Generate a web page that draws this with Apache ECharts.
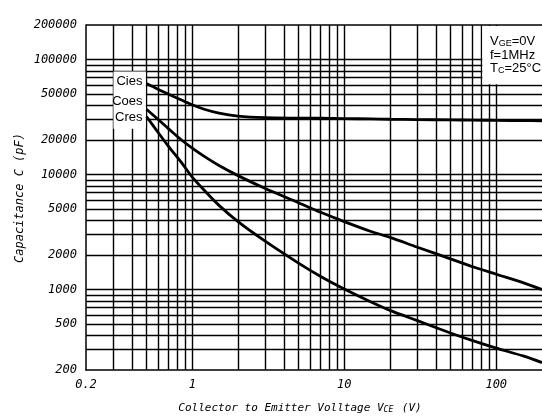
<!DOCTYPE html>
<html>
<head>
<meta charset="utf-8">
<script src="https://cdn.jsdelivr.net/npm/echarts@6/dist/echarts.min.js"></script>
<style>
  html, body { margin: 0; padding: 0; background: #fff; }
  #chart { width: 542px; height: 420px; }
</style>
</head>
<body>
<div id="chart"></div>
<script>
// Capacitance vs. collector-emitter voltage (log-log)
const vce = [0.5, 0.6, 0.7, 0.85, 1, 1.2, 1.5, 2, 3, 5, 7, 10, 15, 20, 30, 50, 70, 100, 150, 200];
const cies = [62000, 55000, 50000, 44500, 40500, 37000, 34200, 32300, 31300, 31000, 30900, 30700, 30500, 30300, 30100, 29900, 29800, 29600, 29500, 29400];
const coes = [37000, 30000, 25000, 20000, 17000, 14400, 12000, 9800, 7600, 5700, 4700, 3900, 3200, 2850, 2350, 1850, 1580, 1360, 1150, 1000];
const cres = [32000, 23000, 17500, 12700, 9500, 7300, 5400, 3900, 2650, 1700, 1300, 1010, 780, 660, 540, 420, 360, 310, 265, 232];

const seriesNames = ['Cies', 'Coes', 'Cres'];

// Axis tick labels
const xTickLabels = [0.2, 1, 10, 100];
const yTickLabels = [200, 500, 1000, 2000, 5000, 10000, 20000, 50000, 100000, 200000];

// Grid lines at 1..9 of every decade
const xGridValues = [0.3, 0.4, 0.5, 0.6, 0.7, 0.8, 0.9, 1, 2, 3, 4, 5, 6, 7, 8, 9, 10, 20, 30, 40, 50, 60, 70, 80, 90, 100];
const yGridValues = [300, 400, 500, 600, 700, 800, 900, 1000, 2000, 3000, 4000, 5000, 6000, 7000, 8000, 9000,
  10000, 20000, 30000, 40000, 50000, 60000, 70000, 80000, 90000, 100000];

const monoFont = '"DejaVu Sans Mono", "Liberation Mono", monospace';
const sansFont = '"Liberation Sans Narrow", "Liberation Sans", Arial, sans-serif';

const chart = echarts.init(document.getElementById('chart'), null, { renderer: 'canvas' });

function pairs(xs, ys) { return xs.map((x, i) => [x, ys[i]]); }

const curveData = [cies, coes, cres];
const labelOffsets = [[0, -2], [0, -8], [0, 1]];

const curveSeries = curveData.map((ys, k) => ({
  name: seriesNames[k],
  type: 'line',
  smooth: 0.3,
  symbol: 'circle',
  symbolSize: 0,
  showSymbol: true,
  z: 3,
  animation: false,
  clip: true,
  lineStyle: { color: '#000', width: 2.8 },
  itemStyle: { color: '#000' },
  data: pairs(vce, ys).map((p, i) => i === 0 ? {
    value: p,
    label: {
      show: true, position: 'left', distance: 4, offset: labelOffsets[k],
      formatter: seriesNames[k], color: '#000',
      fontFamily: sansFont, fontSize: 13
    }
  } : { value: p, label: { show: false } })
}));

const option = {
  backgroundColor: '#fff',
  animation: false,
  grid: { left: 86, right: 0, top: 25, bottom: 50, show: false },
  xAxis: {
    type: 'log', logBase: 10, min: 0.2, max: 200,
    axisLine: { show: true, lineStyle: { color: '#000', width: 1.5 } },
    axisTick: { show: false },
    splitLine: { show: false },
    minorSplitLine: { show: false },
    axisLabel: {
      customValues: xTickLabels,
      formatter: v => String(v),
      color: '#000', fontFamily: monoFont, fontStyle: 'italic', fontSize: 12, margin: 9
    }
  },
  yAxis: {
    type: 'log', logBase: 10, min: 200, max: 200000,
    axisLine: { show: true, lineStyle: { color: '#000', width: 1.5 } },
    axisTick: { show: false },
    splitLine: { show: false },
    axisLabel: {
      customValues: yTickLabels,
      formatter: v => String(v),
      color: '#000', fontFamily: monoFont, fontStyle: 'italic', fontSize: 12, margin: 9
    }
  },
  graphic: [
    {
      type: 'text', x: 300, y: 408, z: 10,
      style: {
        text: '{m|Collector to Emitter Volltage V}{s|CE}{m| (V)}',
        textAlign: 'center', textVerticalAlign: 'middle',
        rich: {
          m: { fontFamily: monoFont, fontStyle: 'italic', fontSize: 11, fill: '#000' },
          s: { fontFamily: monoFont, fontStyle: 'italic', fontSize: 8, fill: '#000', verticalAlign: 'bottom', padding: [3, 2, 0, 0] }
        }
      }
    },
    {
      type: 'text', x: 20, y: 198, rotation: Math.PI / 2, z: 10,
      style: {
        text: 'Capacitance C (pF)',
        textAlign: 'center', textVerticalAlign: 'middle',
        fontFamily: monoFont, fontStyle: 'italic', fontSize: 12, fill: '#000'
      }
    },
    {
      type: 'text', x: 490, y: 35, z: 10,
      style: {
        text: '{n|V}{s|GE}{n|=0V}\n{n|f=1MHz}\n{n|T}{s|C}{n|=25°C}',
        textVerticalAlign: 'top',
        rich: {
          n: { fontFamily: sansFont, fontSize: 13, fill: '#000', lineHeight: 13.5 },
          s: { fontFamily: sansFont, fontSize: 9, fill: '#000', lineHeight: 13.5, verticalAlign: 'bottom' }
        }
      }
    }
  ],
  series: [
    {
      name: 'grid',
      type: 'line',
      data: [],
      silent: true,
      animation: false,
      markLine: {
        z: 1,
        silent: true,
        animation: false,
        symbol: ['none', 'none'],
        label: { show: false },
        lineStyle: { color: '#000', width: 1.4, type: 'solid' },
        emphasis: { disabled: true },
        data: xGridValues.map(v => ({ xAxis: v }))
          .concat(yGridValues.map(v => ({ yAxis: v })))
          .concat([{ yAxis: 200000, lineStyle: { width: 1.5 } }])
      },
      markArea: {
        z: 2,
        silent: true,
        animation: false,
        itemStyle: { color: '#fff', opacity: 1 },
        label: { show: false },
        emphasis: { disabled: true },
        data: [
          [{ coord: [0.303, 79000] }, { coord: [0.495, 25000] }],
          [{ coord: [81, 196000] }, { coord: [200, 61000] }]
        ]
      }
    }
  ].concat(curveSeries)
};

chart.setOption(option);
</script>
</body>
</html>
